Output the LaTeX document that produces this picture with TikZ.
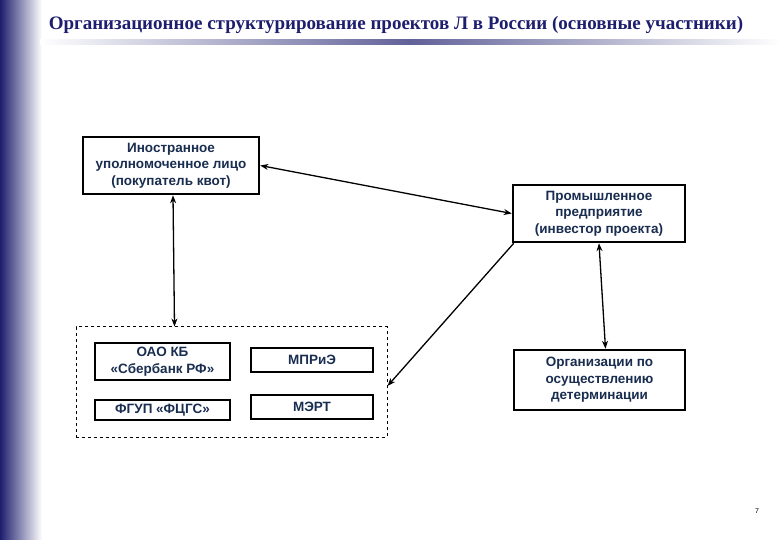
\documentclass[tikz,border=0pt]{standalone}
\usepackage{fontspec}
\setmainfont{Liberation Serif}
\newfontfamily\arialfont{Liberation Sans}
\usetikzlibrary{arrows.meta}
\definecolor{navy}{RGB}{30,30,110}
\definecolor{txt}{RGB}{25,45,80}
\tikzset{
 box/.style={draw=black,line width=2.5pt,align=center,font=\arialfont\bfseries\fontsize{13.5}{16.5}\selectfont,text=txt,inner sep=0pt},
 link/.style={line width=1.3pt,{Stealth[length=8pt,width=6pt]}-{Stealth[length=8pt,width=6pt]}},
 link1/.style={line width=1.3pt,-{Stealth[length=8pt,width=6pt]}}
}
\begin{document}
\begin{tikzpicture}[x=1pt,y=-1pt]
\useasboundingbox (0,0) rectangle (780,540);
\fill[white] (0,0) rectangle (780,540);
\shade[left color=navy,right color=white] (0,0) rectangle (42,540);
\shade[left color=white,right color=navy!70] (40,40) rectangle (410,45);
\shade[left color=navy!70,right color=white] (410,40) rectangle (780,45);
\node[font=\bfseries\fontsize{19}{22}\selectfont,text=navy] (title) at (396,25) {Организационное структурирование проектов Л в России (основные участники)};
\node[box,minimum width=176,minimum height=57] (f) at (171,165.5) {Иностранное\\уполномоченное лицо\\(покупатель квот)};
\node[box,minimum width=172,minimum height=57] (p) at (599,213.5) {Промышленное\\предприятие\\(инвестор проекта)};
\node[draw=black,dashed,line width=1pt,minimum width=311,minimum height=110] (c) at (231.5,382) {};
\node[box,minimum width=135,minimum height=37] (s) at (162.5,361.5) {ОАО КБ\\«Сбербанк РФ»};
\node[box,minimum width=135,minimum height=20] (g) at (162.5,410) {ФГУП «ФЦГС»};
\node[box,minimum width=122,minimum height=24] (m) at (312,360) {МПРиЭ};
\node[box,minimum width=122,minimum height=24] (e) at (312,407) {МЭРТ};
\node[box,minimum width=171,minimum height=60] (o) at (599.5,380) {Организации по\\осуществлению\\детерминации};
\node[font=\arialfont\fontsize{7}{8}\selectfont] (n) at (757,511) {7};
\draw[link] (f.east) -- (p.west);
\draw[link] ([xshift=2pt]f.south) -- ([xshift=99pt]c.north west);
\draw[link] (p.south) -- ([xshift=6pt]o.north);
\draw[link1] ([xshift=2pt]p.south west) -- ([yshift=-4pt]c.east);
\end{tikzpicture}
\end{document}
